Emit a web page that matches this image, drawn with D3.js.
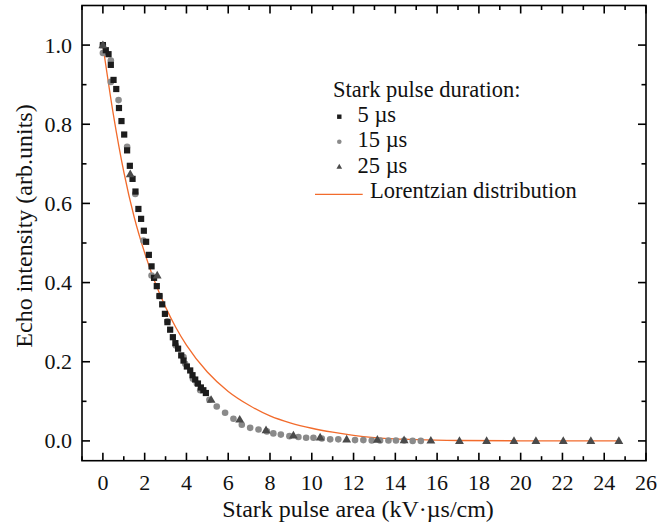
<!DOCTYPE html>
<html>
<head>
<meta charset="utf-8">
<script src="https://cdn.jsdelivr.net/npm/d3@7"></script>
<style>
  html, body { margin: 0; padding: 0; background: #fff; }
</style>
</head>
<body>
<svg id="chart" width="659" height="523" font-family="'Liberation Serif', 'Times New Roman', 'DejaVu Serif', serif"></svg>
<script>
// ---- data ----
const sq5X = [0, 0.14, 0.27, 0.38, 0.51, 0.64, 0.77, 0.89, 1.02, 1.16, 1.29, 1.42, 1.56, 1.70, 1.83, 1.96, 2.07, 2.20, 2.33, 2.45, 2.58, 2.71, 2.84, 2.97, 3.09, 3.22, 3.35, 3.47, 3.60, 3.75, 3.86, 4.02, 4.18, 4.29, 4.42, 4.55, 4.69, 4.81, 4.93];
const sq5Y = [1.0, 0.987, 0.977, 0.950, 0.912, 0.889, 0.841, 0.808, 0.774, 0.734, 0.695, 0.662, 0.630, 0.586, 0.561, 0.531, 0.503, 0.470, 0.441, 0.412, 0.391, 0.366, 0.345, 0.321, 0.300, 0.281, 0.262, 0.247, 0.233, 0.216, 0.203, 0.188, 0.178, 0.166, 0.155, 0.145, 0.135, 0.128, 0.121];

const ci15X = [0, 0, 0.38, 0.38, 0.75, 1.16, 1.55, 1.94, 2.33, 2.71, 3.09, 3.49, 3.86, 3.94, 4.31, 4.50, 4.66, 5.10, 5.45, 5.85, 6.25, 6.65, 7.05, 7.45, 7.85, 8.16, 8.52, 8.93, 9.36, 9.73, 10.08, 10.48, 10.88, 11.27, 12.07, 12.47, 12.87, 13.27, 13.67, 14.03, 14.42, 14.83, 15.22];
const ci15Y = [1.0, 0.980, 0.961, 0.907, 0.861, 0.743, 0.624, 0.506, 0.418, 0.366, 0.302, 0.241, 0.212, 0.195, 0.157, 0.145, 0.128, 0.104, 0.087, 0.071, 0.056, 0.041, 0.033, 0.029, 0.024, 0.019, 0.016, 0.012, 0.010, 0.008, 0.008, 0.006, 0.004, 0.004, 0.002, 0.002, 0.001, 0.001, 0.001, 0.001, 0.001, 0.0, 0.0];

const tr25X = [0, 1.31, 2.60, 5.18, 6.55, 7.81, 9.12, 10.40, 11.67, 13.14, 14.42, 15.70, 17.07, 18.37, 19.68, 20.73, 22.04, 23.36, 24.70];
const tr25Y = [1.0, 0.674, 0.418, 0.104, 0.054, 0.027, 0.014, 0.009, 0.004, 0.003, 0.002, 0.001, 0.0, 0.0, 0.0, 0.0, 0.0, 0.0, 0.0];

const lorX = [0, 0.5, 1.0, 1.5, 2.0, 2.5, 3.0, 3.5, 4.0, 5.0, 6.0, 7.0, 8.0, 9.0, 10.0, 11.0, 12.0, 13.0, 14.0, 15.0, 17.0, 20.0, 24.7];
const lorY = [1.0, 0.825, 0.68, 0.565, 0.475, 0.40, 0.338, 0.286, 0.242, 0.174, 0.125, 0.090, 0.063, 0.045, 0.032, 0.022, 0.014, 0.0085, 0.005, 0.003, 0.001, 0.0003, 0.0];

const xTickLabels = [0, 2, 4, 6, 8, 10, 12, 14, 16, 18, 20, 22, 24, 26];
const xMinorTicks = [-1, 1, 3, 5, 7, 9, 11, 13, 15, 17, 19, 21, 23, 25];
const yTickLabels = [0.0, 0.2, 0.4, 0.6, 0.8, 1.0];
const yMinorTicks = [0.1, 0.3, 0.5, 0.7, 0.9];

const legendTitle = "Stark pulse duration:";
const seriesNames = ["5 \u00b5s", "15 \u00b5s", "25 \u00b5s"];
const lineName = "Lorentzian distribution";
const xTitle = "Stark pulse area (kV\u00b7\u00b5s/cm)";
const yTitle = "Echo intensity (arb.units)";

// ---- layout ----
const L = 82, R = 646, T = 5.5, B = 460.7;
const x = d3.scaleLinear().domain([-1, 26]).range([L, R]);
const y = d3.scaleLinear().domain([-0.05, 1.1]).range([B, T]);

const svg = d3.select("#chart");
const colSq = "#1c1c1c", colCi = "#8a8a8a", colTr = "#4a4a4a", colLine = "#f26b2c";

// Lorentzian curve
const lorData = lorX.map((v, i) => [v, lorY[i]]);
svg.append("path")
  .datum(lorData)
  .attr("fill", "none")
  .attr("stroke", colLine)
  .attr("stroke-width", 1.3)
  .attr("d", d3.line().x(d => x(d[0])).y(d => y(d[1])).curve(d3.curveMonotoneX));

// Circles (15 us)
svg.append("g").selectAll("circle")
  .data(ci15X.map((v, i) => [v, ci15Y[i]]))
  .join("circle")
  .attr("cx", d => x(d[0])).attr("cy", d => y(d[1]))
  .attr("r", 3.3).attr("fill", colCi);

// Squares (5 us)
const sqS = 6.2;
svg.append("g").selectAll("rect")
  .data(sq5X.map((v, i) => [v, sq5Y[i]]))
  .join("rect")
  .attr("x", d => x(d[0]) - sqS / 2).attr("y", d => y(d[1]) - sqS / 2)
  .attr("width", sqS).attr("height", sqS).attr("fill", colSq);

// Triangles (25 us)
const tri = d3.symbol().type(d3.symbolTriangle).size(34);
svg.append("g").selectAll("path")
  .data(tr25X.map((v, i) => [v, tr25Y[i]]))
  .join("path")
  .attr("transform", d => `translate(${x(d[0])},${y(d[1]) + 0.5})`)
  .attr("d", tri).attr("fill", colTr);

// ---- frame & ticks ----
const axG = svg.append("g").attr("stroke", "#000").attr("stroke-width", 1.6);
axG.append("rect").attr("x", L).attr("y", T).attr("width", R - L).attr("height", B - T).attr("fill", "none");

const majLen = 8, minLen = 4.5;
function xt(vals, len) {
  vals.forEach(v => {
    axG.append("line").attr("x1", x(v)).attr("x2", x(v)).attr("y1", B).attr("y2", B - len);
    axG.append("line").attr("x1", x(v)).attr("x2", x(v)).attr("y1", T).attr("y2", T + len);
  });
}
function yt(vals, len) {
  vals.forEach(v => {
    axG.append("line").attr("y1", y(v)).attr("y2", y(v)).attr("x1", L).attr("x2", L + len);
    axG.append("line").attr("y1", y(v)).attr("y2", y(v)).attr("x1", R).attr("x2", R - len);
  });
}
xt(xTickLabels, majLen); xt(xMinorTicks, minLen);
yt(yTickLabels, majLen); yt(yMinorTicks, minLen);

// tick labels
svg.append("g").selectAll("text")
  .data(xTickLabels).join("text")
  .attr("x", d => x(d)).attr("y", 490)
  .attr("text-anchor", "middle").attr("font-size", 22).attr("fill", "#111")
  .text(d => d);

svg.append("g").selectAll("text")
  .data(yTickLabels).join("text")
  .attr("x", 72).attr("y", d => y(d) + 7.5)
  .attr("text-anchor", "end").attr("font-size", 22).attr("fill", "#111")
  .text(d => d3.format(".1f")(d));

// axis titles
svg.append("text").attr("x", (L + R) / 2 - 6).attr("y", 517)
  .attr("text-anchor", "middle").attr("font-size", 24).attr("fill", "#111").text(xTitle);
svg.append("text")
  .attr("transform", `translate(32, ${226}) rotate(-90)`)
  .attr("text-anchor", "middle").attr("font-size", 24).attr("fill", "#111").text(yTitle);

// ---- legend ----
const lg = svg.append("g").attr("fill", "#111");
lg.append("text").attr("x", 333).attr("y", 97).attr("font-size", 22.5).text(legendTitle);
const rowY = [122, 147, 173];
lg.append("rect").attr("x", 339.3 - 2.2).attr("y", 116.7 - 2.2).attr("width", 4.4).attr("height", 4.4).attr("fill", colSq);
lg.append("circle").attr("cx", 339.3).attr("cy", 141.7).attr("r", 2.3).attr("fill", colCi);
lg.append("path").attr("transform", "translate(339.3,167)").attr("d", d3.symbol().type(d3.symbolTriangle).size(14)()).attr("fill", colTr);
seriesNames.forEach((s, i) => {
  lg.append("text").attr("x", 357.5).attr("y", rowY[i]).attr("font-size", 22.5).text(s);
});
lg.append("line").attr("x1", 315).attr("x2", 362.7).attr("y1", 194.3).attr("y2", 194.3)
  .attr("stroke", colLine).attr("stroke-width", 1.3);
lg.append("text").attr("x", 370).attr("y", 198).attr("font-size", 22.5).text(lineName);
</script>
</body>
</html>
